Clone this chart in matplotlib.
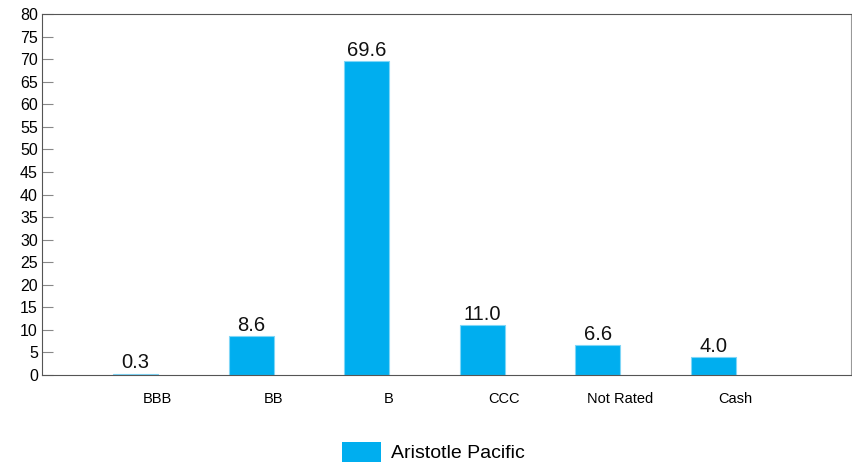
import numpy as np
import matplotlib.pyplot as plt
from matplotlib.patches import Patch

plt.rcParams['font.family'] = ['Liberation Sans', 'DejaVu Sans']

categories = ['BBB', 'BB', 'B', 'CCC', 'Not Rated', 'Cash']
values = [0.3, 8.6, 69.6, 11.0, 6.6, 4.0]
series_name = 'Aristotle Pacific'
bar_color = '#00AEEF'

fig = plt.figure(figsize=(8.53, 4.65), dpi=100)
ax = fig.add_axes([0.0492, 0.1935, 0.9485, 0.7764])

x = np.arange(len(categories))
ax.bar(x, values, width=0.39, color=bar_color, edgecolor='#7fd6f7', linewidth=0.8)
for xi, v in zip(x, values):
    ax.text(xi, v + 0.3, f'{v:.1f}', ha='center', va='bottom', fontsize=14.5, color='#111111')

ax.set_xlim(-0.81, 6.19)
ax.set_ylim(0, 80)
ax.set_yticks(np.arange(0, 81, 5))
ax.tick_params(axis='y', direction='in', length=8, color='#888888', labelsize=11.5, pad=3)
ax.set_xticks(x + 0.19)
ax.set_xticklabels(categories)
ax.tick_params(axis='x', length=0, labelsize=10.5, pad=12)

for side in ['left', 'bottom', 'top']:
    ax.spines[side].set_color('#555555')
ax.spines['right'].set_color('#999999')

handles = [Patch(facecolor=bar_color, edgecolor='none', label=series_name)]
fig.legend(handles=handles, loc='center', bbox_to_anchor=(0.508, 0.028), frameon=False,
           fontsize=14, handlelength=2.0, handleheight=1.2, handletextpad=0.5)

fig.savefig('out.png', dpi=100)
